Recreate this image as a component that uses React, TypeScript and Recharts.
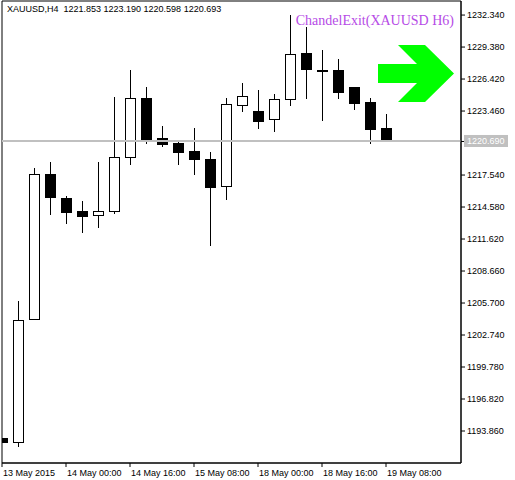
import React from 'react';
import { ComposedChart, Bar, XAxis, YAxis, ReferenceLine, ReferenceDot, ReferenceArea, Customized } from 'recharts';

// XAUUSD H4 candles, 13 May 2015 08:00 .. 19 May 2015 08:00
const OPEN = [1193.21, 1192.87, 1204.19, 1217.63, 1215.38, 1214.21, 1213.81, 1214.24, 1219.18, 1224.63, 1220.96, 1220.47, 1219.79, 1219.02, 1216.49, 1223.99, 1223.46, 1222.69, 1224.54, 1228.85, 1227.30, 1227.22, 1225.65, 1224.27, 1221.853];
const HIGH = [1193.25, 1205.88, 1218.16, 1218.74, 1215.60, 1215.13, 1218.74, 1224.75, 1227.25, 1225.68, 1222.07, 1220.71, 1221.89, 1219.67, 1224.66, 1226.08, 1225.40, 1225.03, 1232.34, 1231.26, 1229.10, 1228.27, 1225.65, 1224.63, 1223.190];
const LOW = [1192.80, 1192.41, 1204.10, 1213.87, 1213.04, 1212.20, 1212.67, 1213.96, 1218.49, 1220.41, 1220.13, 1218.49, 1217.57, 1211.00, 1215.26, 1223.37, 1221.77, 1221.55, 1223.92, 1224.57, 1222.56, 1224.57, 1223.55, 1220.38, 1220.598];
const CLOSE = [1192.84, 1204.13, 1217.60, 1215.53, 1214.15, 1213.78, 1214.18, 1219.20, 1224.63, 1220.78, 1220.41, 1219.69, 1219.02, 1216.46, 1224.08, 1224.82, 1222.56, 1224.57, 1228.73, 1227.37, 1227.18, 1225.25, 1224.23, 1221.82, 1220.693];

const TIME_TICKS = [0, 4, 8, 12, 16, 20, 24];
const TIME_LABELS = ['13 May 2015', '14 May 00:00', '14 May 16:00', '15 May 08:00', '18 May 00:00', '18 May 16:00', '19 May 08:00'];
const PRICE_TICKS = [1193.86, 1196.82, 1199.78, 1202.74, 1205.70, 1208.66, 1211.62, 1214.58, 1217.54, 1223.46, 1226.42, 1229.38, 1232.34];
const LAST_PRICE = 1220.69;

const data = OPEN.map((o, i) => ({ i, open: o, high: HIGH[i], low: LOW[i], close: CLOSE[i] }));

const FONT = 'Liberation Sans';

function Candle(props: any) {
  const { x, y, width, height, payload } = props;
  const { open, close, high, low } = payload;
  const toY = (v: number) => y + ((high - v) / (high - low)) * height;
  const cx = Math.round(x + width / 2);
  const top = Math.round(toY(Math.max(open, close)));
  const bot = Math.round(toY(Math.min(open, close)));
  const bull = close > open;
  return (
    <g>
      <line x1={cx + 0.5} x2={cx + 0.5} y1={Math.round(toY(high))} y2={Math.round(toY(low))} stroke="#000" strokeWidth={1} />
      {bot - top < 1 ? (
        <rect x={cx - 5} y={top - 1} width={11} height={2} fill="#000" />
      ) : (
        <rect x={cx - 4.5} y={top + 0.5} width={10} height={bot - top} fill={bull ? '#fff' : '#000'} stroke="#000" strokeWidth={1} />
      )}
    </g>
  );
}

function Arrow(props: any) {
  const { cx, cy } = props;
  const pts = [[-38, -9.5], [1, -9.5], [-18, -28.5], [9, -28.5], [38, 0], [9, 28.5], [-18, 28.5], [1, 9.5], [-38, 9.5]];
  return <polygon points={pts.map(([dx, dy]) => `${cx + dx},${cy + dy}`).join(' ')} fill="#00ff00" />;
}

function TimeTick(props: any) {
  const { x, y, payload } = props;
  const idx = TIME_TICKS.indexOf(payload.value);
  return (
    <text x={x + 1} y={y + 7} fontSize={9} fontFamily={FONT} fill="#000" textAnchor="start">
      {TIME_LABELS[idx]}
    </text>
  );
}

function PriceTick(props: any) {
  const { x, y, payload } = props;
  return (
    <text x={x} y={y + 3} fontSize={9} fontFamily={FONT} fill="#000" textAnchor="start">
      {payload.value.toFixed(3)}
    </text>
  );
}

function PriceLabel(props: any) {
  const { viewBox } = props;
  const x = viewBox.x + viewBox.width;
  const y = viewBox.y;
  return (
    <g>
      <line x1={x} x2={x + 3} y1={y + 0.5} y2={y + 0.5} stroke="#000" />
      <rect x={x + 3} y={y - 6} width={44} height={12} fill="#c0c0c0" />
      <text x={x + 6} y={y + 3} fontSize={9} fontFamily={FONT} fill="#fff">{LAST_PRICE.toFixed(3)}</text>
    </g>
  );
}

function Titles() {
  return (
    <g>
      <text x={7} y={12} fontSize={9} fontFamily={FONT} fill="#000" style={{ whiteSpace: 'pre' }}>
        {`XAUUSD,H4  ${OPEN[24].toFixed(3)} ${HIGH[24].toFixed(3)} ${LOW[24].toFixed(3)} ${CLOSE[24].toFixed(3)}`}
      </text>
      <text x={454} y={25} fontSize={14} fontFamily="Liberation Serif" fill="#b64be6" textAnchor="end">
        ChandelExit(XAUUSD H6)
      </text>
    </g>
  );
}

export default function App() {
  return (
    <div style={{ position: 'absolute', left: 0, top: 0, width: 515, height: 480, background: '#fff' }}>
      <ComposedChart width={515} height={480} data={data} margin={{ top: 1, right: 1, bottom: 1, left: 2 }}>
        <XAxis
          type="number"
          dataKey="i"
          domain={[0, 28.6875]}
          ticks={TIME_TICKS}
          interval={0}
          allowDataOverflow
          height={16}
          tickSize={4}
          axisLine={{ stroke: '#000' }}
          tickLine={{ stroke: '#000' }}
          tick={<TimeTick />}
        />
        <YAxis
          orientation="right"
          type="number"
          domain={[1190.9, 1233.64]}
          ticks={PRICE_TICKS}
          interval={0}
          allowDataOverflow
          width={53}
          tickSize={4}
          axisLine={{ stroke: '#000' }}
          tickLine={{ stroke: '#000' }}
          tick={<PriceTick />}
        />
        <ReferenceArea x1={0} x2={28.6875} y1={1190.9} y2={1233.64} fill="none" stroke="#000" strokeOpacity={1} />
        <ReferenceLine y={LAST_PRICE} stroke="#c0c0c0" strokeWidth={2} label={<PriceLabel />} />
        <Bar dataKey={(d: any) => [d.low, d.high]} barSize={10} shape={<Candle />} isAnimationActive={false} />
        <ReferenceDot x={25.875} y={1226.93} r={1} shape={<Arrow />} />
        <Customized component={Titles} />
      </ComposedChart>
    </div>
  );
}
